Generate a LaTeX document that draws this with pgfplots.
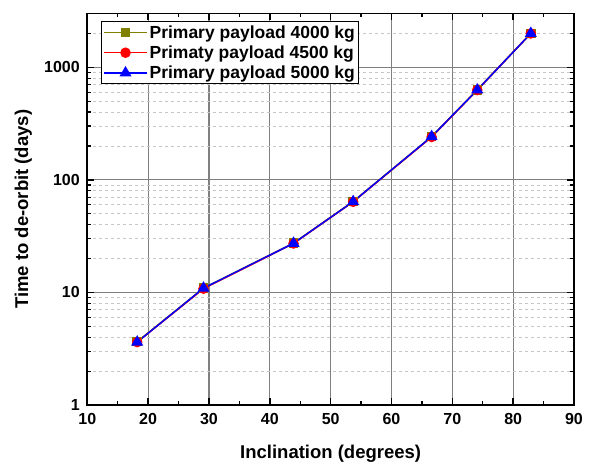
\documentclass[border=0pt]{standalone}
\usepackage{pgfplots}
\pgfplotsset{compat=1.18}
\usepackage{fontspec}
\setmainfont{Liberation Sans}
\definecolor{olivec}{RGB}{128,128,0}
\begin{document}
\begin{tikzpicture}
\begin{axis}[
  scale only axis, width=486.7pt, height=391.5pt,
  xmin=10, xmax=90, ymode=log, ymin=1, ymax=3000,
  xtick={10,20,...,90}, minor x tick num=1,
  ytick={1,10,100,1000}, yticklabels={1,10,100,1000},
  minor ytick={2,3,4,5,6,7,8,9,20,30,40,50,60,70,80,90,200,300,400,500,600,700,800,900,2000},
  xmajorgrids, ymajorgrids, yminorgrids,
  major grid style={draw=gray, line width=1.2pt},
  minor grid style={draw=gray!45, dashed, line width=0.8pt},
  axis line style={line width=1.6pt},
  tick align=inside, major tick length=7pt, minor tick length=4pt,
  every tick/.style={black, line width=1.4pt},
  every minor tick/.style={black, line width=1.2pt},
  xtick pos=both, ytick pos=both,
  /pgf/number format/assume math mode=true,
  tick label style={font=\fontsize{16}{19}\selectfont\bfseries},
  xticklabel style={yshift=-4.5pt},
  yticklabel style={xshift=-4pt},
  label style={font=\fontsize{18.5}{22}\selectfont\bfseries},
  xlabel={Inclination (degrees)},
  ylabel={Time to de-orbit (days)},
  xlabel style={at={(axis description cs:0.5,-0.1357)}, anchor=base},
  ylabel style={at={(axis description cs:-0.1314,0.5)}, anchor=center},
  legend style={at={(0.028,0.981)}, anchor=north west, draw=black, line width=1pt,
    font=\fontsize{17.5}{20}\selectfont\bfseries, inner sep=2pt, row sep=2pt,
    cells={anchor=west}},
  legend image code/.code={\draw[mark repeat=2,mark phase=2] plot coordinates {(0cm,0cm) (0.75cm,0cm) (1.5cm,0cm)};},
]
\addplot[olivec, line width=1.5pt, mark=square*, mark size=4pt, mark options={solid}] coordinates {
  (18.2,3.65) (29.1,10.9) (43.9,27.4) (53.7,64.2) (66.6,242) (74.1,630) (82.9,2000)};
\addlegendentry{Primary payload 4000 kg}
\addplot[red, line width=1.5pt, mark=*, mark size=4.5pt, mark options={solid}] coordinates {
  (18.2,3.62) (29.1,10.8) (43.9,27.2) (53.7,63.8) (66.6,240) (74.1,627) (82.9,1995)};
\addlegendentry{Primaty payload 4500 kg}
\addplot[blue, line width=1.5pt, mark=triangle*, mark size=5.5pt, mark options={solid}] coordinates {
  (18.2,3.62) (29.1,10.9) (43.9,27.3) (53.7,64.0) (66.6,242) (74.1,628) (82.9,1995)};
\addlegendentry{Primary payload 5000 kg}
\end{axis}
\pgfresetboundingbox
\path[use as bounding box] (-87.3pt,-59pt) rectangle (501.7pt,405pt);
\end{tikzpicture}
\end{document}
